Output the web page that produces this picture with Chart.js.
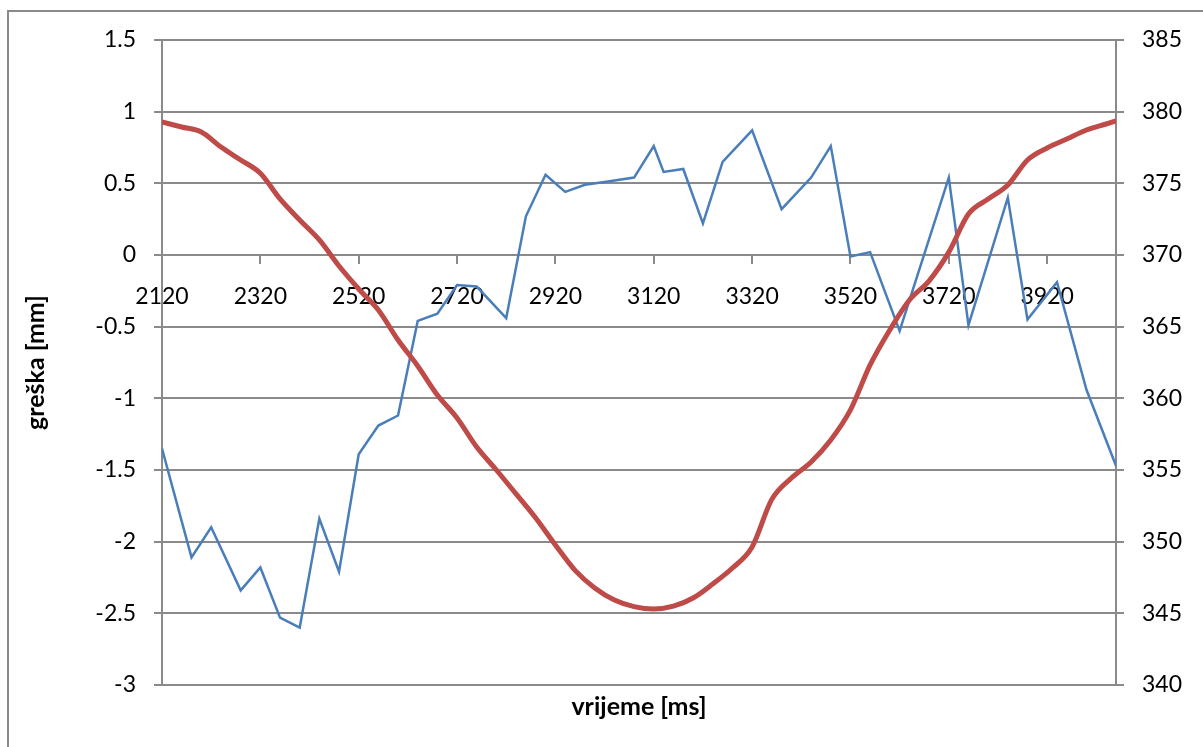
<!DOCTYPE html>
<html>
<head>
<meta charset="utf-8">
<script src="https://cdn.jsdelivr.net/npm/chart.js@4.4.1/dist/chart.umd.min.js"></script>
<style>
  html, body { margin: 0; padding: 0; background: #ffffff; }
  #wrap { position: relative; width: 1203px; height: 747px; }
</style>
</head>
<body>
<div id="wrap"><canvas id="c"></canvas></div>
<script>
// ---- data ----
const blueTimes = [2120,2180,2220,2280,2320,2360,2400,2440,2480,2520,2560,2600,2640,2680,2720,2760,2820,2860,2900,2940,2980,3020,3080,3120,3140,3180,3220,3260,3320,3380,3440,3480,3520,3560,3620,3720,3760,3840,3880,3940,4000,4060];
const blueErrors = [-1.35,-2.11,-1.90,-2.34,-2.18,-2.53,-2.60,-1.84,-2.21,-1.39,-1.19,-1.12,-0.46,-0.41,-0.21,-0.22,-0.44,0.27,0.56,0.44,0.49,0.51,0.54,0.76,0.58,0.60,0.22,0.65,0.87,0.32,0.54,0.76,-0.01,0.02,-0.53,0.54,-0.49,0.40,-0.45,-0.19,-0.94,-1.47];

const redTimes = [2120,2160,2200,2240,2280,2320,2360,2400,2440,2480,2520,2560,2600,2640,2680,2720,2760,2800,2840,2880,2920,2960,3000,3040,3080,3120,3160,3200,3240,3280,3320,3360,3400,3440,3480,3520,3560,3600,3640,3680,3720,3760,3800,3840,3880,3920,3960,4000,4040,4060];
const redValues = [379.28,378.93,378.58,377.53,376.63,375.70,373.91,372.44,371.05,369.23,367.63,366.16,364.07,362.26,360.23,358.63,356.60,355.00,353.33,351.65,349.77,348.00,346.77,345.93,345.47,345.30,345.50,346.07,347.05,348.16,349.63,352.95,354.44,355.56,357.09,359.19,362.33,364.77,366.86,368.20,370.20,372.86,373.90,374.88,376.63,377.47,378.09,378.72,379.14,379.35];

const xTickValues = [2120,2320,2520,2720,2920,3120,3320,3520,3720,3920];
const leftTicks = { min: -3, max: 1.5, step: 0.5 };
const rightTicks = { min: 340, max: 385, step: 5 };

const GRID = '#8a8a8a';
const tickFont = { family: 'Lato', size: 23 };
const titleFont = { family: 'Lato', size: 25, weight: 'bold' };

const outerFrame = {
  id: 'outerFrame',
  beforeDraw(chart) {
    const ctx = chart.ctx;
    ctx.save();
    ctx.strokeStyle = GRID;
    ctx.lineWidth = 2;
    ctx.beginPath();
    ctx.moveTo(8, 747);
    ctx.lineTo(8, 11);
    ctx.lineTo(1203, 11);
    ctx.stroke();
    ctx.restore();
  }
};

Chart.defaults.font.family = 'Lato';
Chart.defaults.color = '#000000';

new Chart(document.getElementById('c'), {
  type: 'line',
  data: {
    datasets: [
      {
        label: 'pozicija',
        data: redTimes.map((t, i) => ({ x: t, y: redValues[i] })),
        yAxisID: 'y1',
        xAxisID: 'x',
        borderColor: '#be4b48',
        borderWidth: 5,
        pointRadius: 0,
        cubicInterpolationMode: 'monotone',
        fill: false,
        order: 0
      },
      {
        label: 'greška',
        data: blueTimes.map((t, i) => ({ x: t, y: blueErrors[i] })),
        yAxisID: 'y',
        xAxisID: 'x',
        borderColor: '#4a7ebb',
        borderWidth: 2.5,
        pointRadius: 0,
        tension: 0,
        fill: false,
        order: 1
      }
    ]
  },
  options: {
    responsive: true,
    maintainAspectRatio: false,
    animation: false,
    layout: { padding: { top: 40, left: 0, right: 0, bottom: 0 } },
    plugins: { legend: { display: false }, tooltip: { enabled: false } },
    scales: {
      x: {
        type: 'linear',
        position: { y: 0 },
        min: 2120,
        max: 4060,
        afterBuildTicks: s => { s.ticks = xTickValues.map(v => ({ value: v })); },
        ticks: { callback: v => String(v), font: tickFont, color: '#000', padding: 20, maxRotation: 0, autoSkip: false },
        grid: { drawOnChartArea: false, drawTicks: true, tickLength: 8, color: GRID, lineWidth: 2 },
        border: { display: true, color: GRID, width: 2 }
      },
      x2: {
        type: 'linear',
        position: 'bottom',
        ticks: { display: false },
        grid: { display: false },
        border: { display: false },
        title: { display: true, text: 'vrijeme [ms]', font: titleFont, color: '#000', padding: { top: 0, bottom: 25 } },
        afterFit: s => { s.height = 62; }
      },
      y: {
        type: 'linear',
        position: 'left',
        min: leftTicks.min,
        max: leftTicks.max,
        ticks: { stepSize: leftTicks.step, font: tickFont, color: '#000', padding: 18, callback: v => String(v) },
        grid: { color: GRID, lineWidth: 2, tickLength: 8 },
        border: { color: GRID, width: 2 },
        title: { display: true, text: 'greška [mm]', font: titleFont, color: '#000', padding: { top: 21, bottom: 0 } },
        afterFit: s => { s.width = 162; }
      },
      y1: {
        type: 'linear',
        position: 'right',
        min: rightTicks.min,
        max: rightTicks.max,
        ticks: { stepSize: rightTicks.step, font: tickFont, color: '#000', padding: 18, callback: v => String(v) },
        grid: { drawOnChartArea: false, color: GRID, lineWidth: 2, tickLength: 8 },
        border: { color: GRID, width: 2 },
        afterFit: s => { s.width = 87; }
      }
    }
  },
  plugins: [outerFrame]
});
</script>
</body>
</html>
